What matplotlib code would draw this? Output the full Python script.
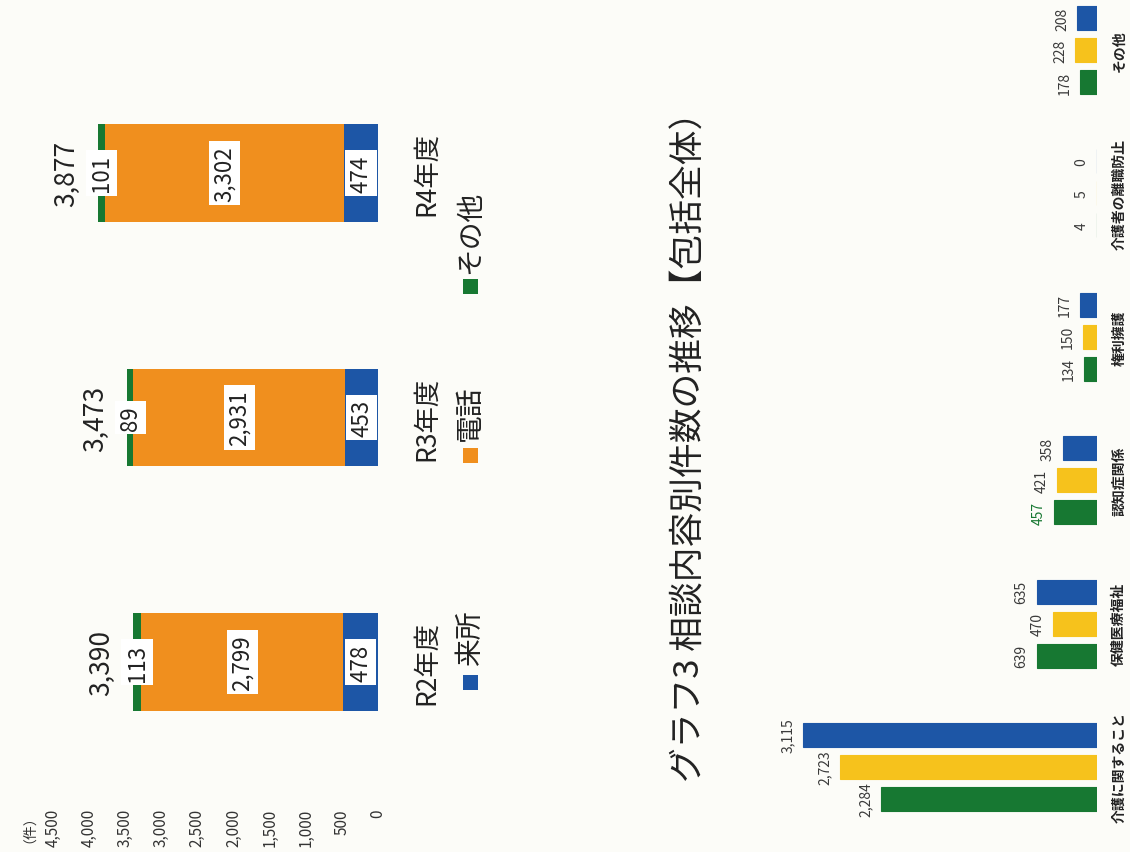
import matplotlib
matplotlib.use("Agg")
import matplotlib.pyplot as plt
from matplotlib.patches import Rectangle

plt.rcParams['font.family'] = ['Noto Sans CJK JP', 'DejaVu Sans']

# 相談方法別件数（積み上げ）
years = ['R2年度', 'R3年度', 'R4年度']
visit = [478, 453, 474]      # 来所
phone = [2799, 2931, 3302]   # 電話
other = [113, 89, 101]       # その他
totals = [3390, 3473, 3877]

# 相談内容別件数
topics = ['介護に関すること', '保健医療福祉', '認知症関係', '権利擁護', '介護者の離職防止', 'その他']
r2 = [2284, 639, 457, 134, 4, 178]
r3 = [2723, 470, 421, 150, 5, 228]
r4 = [3115, 635, 358, 177, 0, 208]

c_blue = '#1d56a6'
c_orange = '#f08f1e'
c_green = '#177832'
c_yellow = '#f6c21c'
bg = '#fcfcf8'

W, H = 1130, 853
fig = plt.figure(figsize=(W / 100, H / 100), dpi=100, facecolor=bg)


def px_axes(left, top, right, bottom):
    # ピクセル座標から軸を作る
    return fig.add_axes([left / W, 1 - bottom / H, (right - left) / W, (bottom - top) / H])


# ---- 上：積み上げ棒（90度回転）----
ax1 = px_axes(52.8, 51.5, 378, 785.5)
ax1.set_facecolor('none')
ypos = list(range(len(years)))
h = 0.4
left2 = visit
left3 = [a + b for a, b in zip(visit, phone)]
ax1.barh(ypos, visit, height=h, color=c_blue)
ax1.barh(ypos, phone, height=h, left=left2, color=c_orange)
ax1.barh(ypos, other, height=h, left=left3, color=c_green)

for i in ypos:
    for start, val in [(0, visit[i]), (left2[i], phone[i]), (left3[i], other[i])]:
        ax1.text(start + val / 2, i, f'{val:,}', rotation=90, ha='center', va='center',
                 fontsize=16, color='#222222',
                 bbox=dict(facecolor='white', edgecolor='none', pad=3))
    ax1.annotate(f'{totals[i]:,}', xy=(totals[i], i), xytext=(-13, 0),
                 textcoords='offset points', rotation=90, ha='right', va='center',
                 fontsize=19, color='#222222')

ax1.set_xlim(4500, 0)
ax1.set_ylim(-0.5, 2.5)
ax1.set_xticks(range(0, 4501, 500))
ax1.set_xticklabels([f'{v:,}' for v in range(0, 4501, 500)])
ax1.tick_params(axis='x', length=0, pad=17, labelsize=11, labelcolor='#333333', labelrotation=90)
ax1.yaxis.tick_right()
ax1.set_yticks(ypos)
ax1.set_yticklabels(years)
ax1.tick_params(axis='y', length=0, pad=25, labelsize=19, labelcolor='#222222', labelrotation=90)
plt.setp(ax1.get_yticklabels(), va='center')
for s in ax1.spines.values():
    s.set_visible(False)

fig.text(22 / W, 1 - 822 / H, '（件）', rotation=90, ha='center', va='center',
         fontsize=10, color='#333333')

# 凡例
legend_items = [('来所', c_blue, 683, 638), ('電話', c_orange, 456, 413), ('その他', c_green, 287, 232)]
for name, col, my, ty in legend_items:
    fig.add_artist(Rectangle(((470 - 7.5) / W, 1 - (my + 7.5) / H), 15 / W, 15 / H,
                             transform=fig.transFigure, facecolor=col, edgecolor='none'))
    fig.text(470 / W, 1 - ty / H, name, rotation=90, ha='center', va='center',
             fontsize=20, color='#222222')

# タイトル
fig.text(690 / W, 1 - 438 / H, 'グラフ3 相談内容別件数の推移【包括全体）', rotation=90,
         ha='center', va='center', fontsize=25, color='#222222')

# ---- 下：グループ棒（90度回転）----
ax2 = px_axes(766.6, -20.7, 1097, 839.7)
ax2.set_facecolor('none')
tpos = list(range(len(topics)))
off = 0.223
bh = 0.167
series = [(r2, c_green, -off), (r3, c_yellow, 0), (r4, c_blue, off)]
for vals, col, d in series:
    ys = [p + d for p in tpos]
    ax2.barh(ys, vals, height=bh, color=col, edgecolor=col, linewidth=0.8)
    for y, v in zip(ys, vals):
        tc = c_green if (col == c_green and v == 457) else '#3a3a3a'
        ax2.annotate(f'{v:,}', xy=(v, y), xytext=(-6, 0), textcoords='offset points',
                     rotation=90, ha='right', va='center', fontsize=10, color=tc)

ax2.set_xlim(3500, 0)
ax2.set_ylim(-0.5, 5.5)
ax2.set_xticks([])
ax2.yaxis.tick_right()
ax2.set_yticks(tpos)
ax2.set_yticklabels(topics, fontweight='bold')
ax2.tick_params(axis='y', length=0, pad=11, labelsize=10, labelcolor='#222222', labelrotation=90)
plt.setp(ax2.get_yticklabels(), va='center')
for s in ax2.spines.values():
    s.set_visible(False)

fig.savefig('out.png', dpi=100, facecolor=bg)
